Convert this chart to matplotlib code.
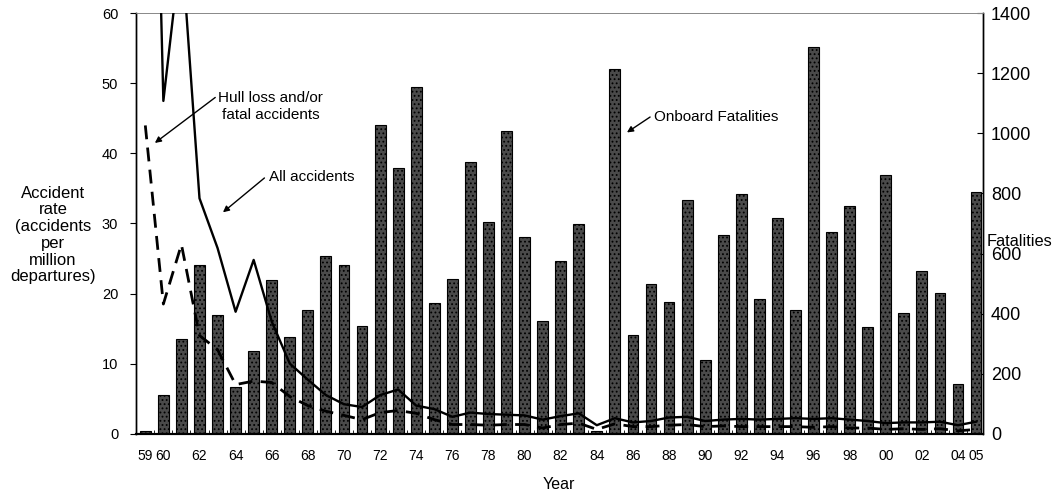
import matplotlib
matplotlib.use("Agg")
import matplotlib.pyplot as plt
from matplotlib.ticker import FixedLocator, MultipleLocator

years = list(range(1959, 2006))
fatalities = [10, 130, 316, 562, 396, 156, 276, 512, 323, 412,
              592, 562, 359, 1028, 885, 1154, 436, 515, 905, 705,
              1008, 655, 376, 575, 698, 8, 1214, 329, 499, 439,
              778, 245, 662, 798, 449, 718, 412, 1287, 672, 758,
              356, 861, 402, 542, 469, 164, 805]
all_accidents = [150, 47.5, 70, 33.6, 26.5, 17.4, 24.8, 16, 10, 7.7,
                 5.5, 4.2, 3.8, 5.5, 6.3, 4.0, 3.5, 2.4, 3.0, 2.8,
                 2.7, 2.6, 2.0, 2.5, 2.9, 1.2, 2.2, 1.6, 1.8, 2.3,
                 2.4, 1.8, 2.0, 2.1, 2.0, 2.1, 2.2, 2.1, 2.2, 2.0,
                 1.8, 1.5, 1.6, 1.6, 1.7, 1.2, 1.7]
hull_loss = [44, 18.5, 27, 14, 12, 7.0, 7.5, 7.3, 5.3, 4.0,
             3.2, 2.6, 2.0, 3.0, 3.3, 2.9, 2.0, 1.3, 1.3, 1.2,
             1.3, 1.3, 0.8, 1.3, 1.5, 0.6, 1.4, 1.0, 1.0, 1.2,
             1.3, 1.0, 1.1, 1.0, 1.0, 1.0, 1.0, 0.9, 1.0, 0.8,
             0.8, 0.6, 0.7, 0.6, 0.7, 0.4, 0.6]
xtick_years = [1959, 1960] + list(range(1962, 2005, 2)) + [2005]
xtick_labels = [f"{y % 100:02d}" for y in xtick_years]

plt.rcParams['font.family'] = ['Liberation Sans', 'DejaVu Sans']
plt.rcParams['hatch.color'] = '#909090'
plt.rcParams['hatch.linewidth'] = 0.8

fig = plt.figure(figsize=(10.59, 4.95), dpi=100)
ax = fig.add_axes([0.128, 0.124, 0.800, 0.849])
ax2 = ax.twinx()
ax.set_zorder(ax2.get_zorder() + 1)
ax.patch.set_visible(False)

# bars (fatalities, right axis)
ax2.bar(years, fatalities, width=0.6, color='#4a4a4a', edgecolor='black',
        linewidth=0.8, hatch='....', zorder=2)
ax2.set_ylim(0, 1400)
ax2.yaxis.set_major_locator(MultipleLocator(200))
ax2.tick_params(axis='y', direction='in', length=4, labelsize=13, pad=6)

# lines (rates, left axis)
ax.plot(years, all_accidents, color='black', lw=1.7, zorder=3)
ax.plot(years, hull_loss, color='black', lw=2.0, dashes=(5, 3), zorder=3)
ax.set_ylim(0, 60)
ax.set_xlim(1958.46, 2005.37)
ax.yaxis.set_major_locator(MultipleLocator(10))
ax.tick_params(axis='y', direction='out', length=4, labelsize=10.5, pad=8.5)
ax.xaxis.set_major_locator(FixedLocator(xtick_years))
ax.set_xticklabels(xtick_labels)
ax.xaxis.set_minor_locator(FixedLocator([y + 0.5 for y in range(1958, 2005)]))
ax.tick_params(axis='x', which='major', length=0, labelsize=10, pad=11)
ax.tick_params(axis='x', which='minor', direction='in', length=3)

for a in (ax, ax2):
    a.spines['top'].set_color('#888888')
    a.spines['top'].set_linewidth(0.6)
    a.spines['top'].set_linestyle((0, (1, 1)))
    a.spines['left'].set_linewidth(1.0)
    a.spines['right'].set_linewidth(1.0)
    a.spines['bottom'].set_linewidth(1.5)

ax.set_xlabel('Year', fontsize=11.5, labelpad=10)

fig.text(53 / 1059, 1 - 235 / 495,
         'Accident\nrate\n(accidents\nper\nmillion\ndepartures)',
         ha='center', va='center', fontsize=12, linespacing=1.15)
fig.text(987 / 1059, 1 - 241 / 495, 'Fatalities', ha='left', va='center',
         fontsize=11.8)

arrow = dict(arrowstyle='-|>', color='black', lw=1.0,
             mutation_scale=9, shrinkA=0, shrinkB=0)
ax.annotate('Hull loss and/or\nfatal accidents', xy=(1959.53, 41.5),
            xytext=(1965.95, 46.7), ha='center', va='center', fontsize=11,
            arrowprops=dict(arrow, relpos=(-0.03, 0.8)))
ax.annotate('All accidents', xy=(1963.3, 31.6), xytext=(1968.2, 36.6),
            ha='center', va='center', fontsize=11,
            arrowprops=dict(arrow, relpos=(-0.05, 0.45)))
ax.annotate('Onboard Fatalities', xy=(1985.67, 43.0), xytext=(1990.6, 45.2),
            ha='center', va='center', fontsize=11,
            arrowprops=dict(arrow, relpos=(-0.03, 0.5)))

fig.savefig('out.png', dpi=100)
